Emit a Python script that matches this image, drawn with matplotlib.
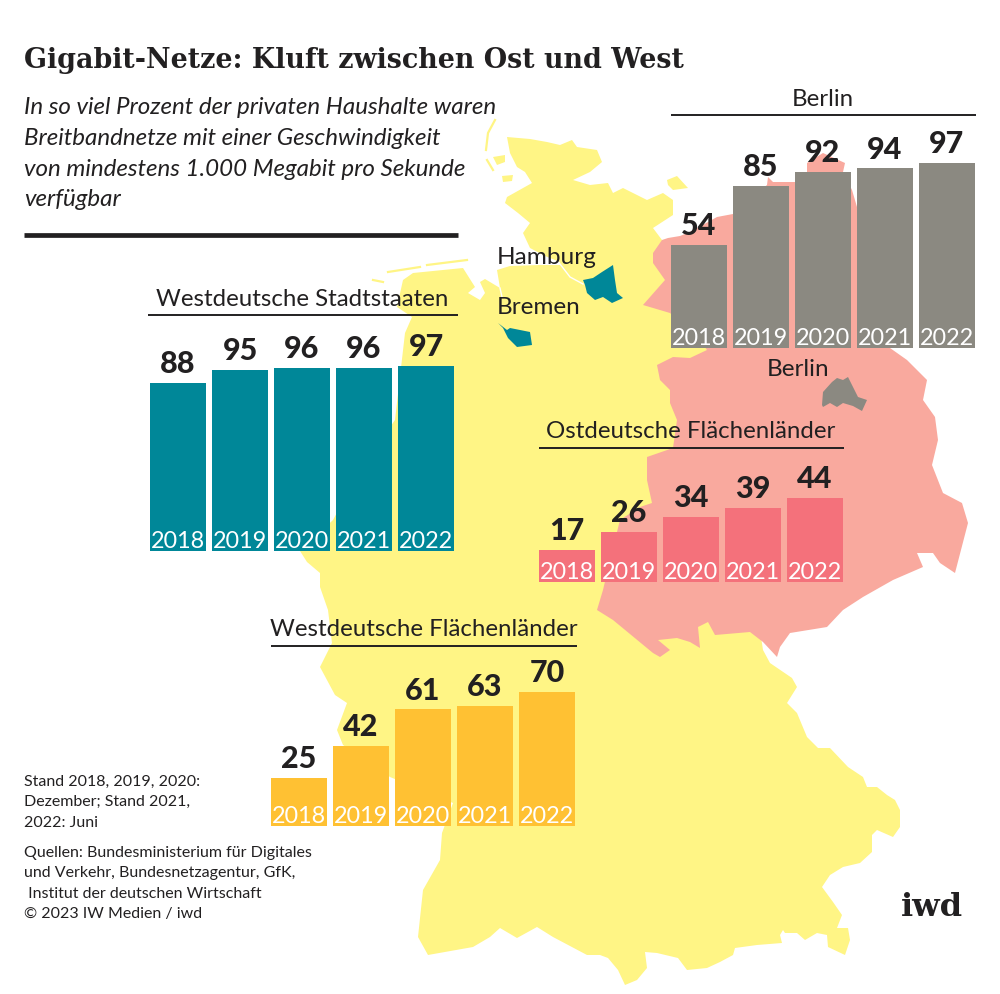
import numpy as np
import matplotlib
matplotlib.use('Agg')
import matplotlib.pyplot as plt
from matplotlib.patches import Polygon

years = ['2018', '2019', '2020', '2021', '2022']
west_city = [88, 95, 96, 96, 97]
berlin = [54, 85, 92, 94, 97]
east_land = [17, 26, 34, 39, 44]
west_land = [25, 42, 61, 63, 70]

# map shapes, traced in picture pixels
germany_west = [(507,137),(530,139),(547,142),(560,145),(572,140),(577,147),(597,150),(602,162),(590,172),(573,180),(590,185),
    (608,183),(613,193),(623,188),(647,200),(663,193),(673,200),(673,215),(653,228),(662,240),(720,300),(740,500),
    (763,650),(770,663),(792,678),(797,687),(787,703),(797,713),(807,737),(818,748),(830,748),(848,767),(863,777),
    (867,787),(877,787),(887,795),(895,800),(900,810),(900,827),(893,837),(877,830),(872,835),(872,852),(860,863),
    (843,867),(830,875),(822,887),(833,902),(842,915),(837,928),(848,928),(850,940),(845,955),(828,947),(827,935),
    (817,933),(805,940),(797,933),(785,933),(783,930),(780,935),(782,943),(757,945),(735,948),(733,955),(720,962),
    (707,968),(687,970),(678,958),(657,953),(645,952),(647,968),(637,980),(625,985),(618,970),(608,958),(600,955),
    (587,955),(553,937),(537,927),(517,938),(500,928),(490,937),(473,947),(428,955),(418,937),(423,890),(440,860),
    (442,833),(453,803),(390,777),(343,745),(337,730),(347,703),(335,695),(320,667),(332,643),(328,610),(320,587),
    (320,573),(307,562),(300,551),(333,520),(360,470),(395,420),(405,333),(412,317),(397,307),(403,280),(413,273),
    (463,268),(475,287),(468,293),(480,300),(485,293),(480,282),(485,279),(500,288),(497,270),(510,266),(540,265),
    (560,265),(560,262),(545,256),(530,248),(523,233),(530,223),(518,213),(505,203),(507,197),(532,183),(525,172),
    (517,167),(510,153)]
germany_east = [(662,240),(668,238),(680,236),(690,232),(717,217),(733,214),(767,185),(768,177),(773,182),(795,182),
    (795,172),(807,172),(807,163),(823,153),(845,163),(843,172),(852,190),(857,207),(860,225),(858,240),(870,300),
    (890,348),(907,360),(927,380),(923,400),(935,417),(938,440),(932,465),(943,493),(962,503),(968,523),(955,573),
    (940,563),(933,553),(917,553),(923,567),(893,580),(863,597),(843,610),(827,627),(790,633),(780,647),(777,657),
    (763,642),(750,632),(715,635),(708,622),(698,627),(700,648),(690,642),(677,638),(658,640),(670,650),(660,657),(653,653),
    (613,620),(597,610),(603,590),(610,560),(620,520),(640,507),(652,503),(647,480),(647,457),(673,448),(677,420),
    (670,403),(670,390),(660,380),(657,365),(673,357),(690,358),(707,350),(700,340),(670,313),(643,305),(665,280),
    (653,263),(653,253)]
hamburg = [(583,280),(593,278),(602,272),(613,265),(615,280),(617,293),(623,298),(612,303),(603,297),(595,300),(587,293),(585,285)]
bremen = [(498,323),(507,330),(510,328),(530,332),(532,345),(517,347),(508,338),(503,328)]
berlin_shape = [(822,405),(823,392),(832,382),(837,378),(843,380),(848,377),(853,387),(858,397),(867,400),(862,411),
    (853,406),(843,403),(837,407),(830,403),(823,407)]
fehmarn = [(667,180),(677,176),(688,188),(673,190),(668,185)]
foehr = [(493,157),(505,155),(505,162),(497,165)]
pellworm = [(502,176),(513,175),(512,181),(503,182)]
sylt = [(495,120),(488,133),(486,150)]
amrum = [(487,160),(493,170)]
frisian_1 = [(373,280),(383,282)]
frisian_2 = [(388,272),(420,267)]
frisian_3 = [(427,265),(467,260)]
elbe = [(560,264),(570,277),(583,284)]
weser = [(500,288),(502,297)]

YELLOW = '#FFF585'
PINK = '#F9A99E'
SANS = 'Lato'
DARK = '#222021'

W, H = 1000, 994
fig = plt.figure(figsize=(W/100, H/100), dpi=100, facecolor='white')
plt.rcParams['font.family'] = SANS

bg = fig.add_axes([0, 0, 1, 1])
bg.set_xlim(0, W)
bg.set_ylim(H, 0)
bg.axis('off')

bg.add_patch(Polygon(germany_west, fc=YELLOW, ec='none'))
bg.add_patch(Polygon(germany_east, fc=PINK, ec='none'))
for shape in [fehmarn, foehr, pellworm]:
    bg.add_patch(Polygon(shape, fc=YELLOW, ec='none'))
for line in [sylt, amrum, frisian_1, frisian_2, frisian_3]:
    bg.plot(*zip(*line), color=YELLOW, lw=1.6)
bg.add_patch(Polygon(hamburg, fc='#008798', ec='none'))
bg.add_patch(Polygon(bremen, fc='#008798', ec='none'))
bg.add_patch(Polygon(berlin_shape, fc='#8B8981', ec='none'))
for line in [elbe, weser]:
    bg.plot(*zip(*line), color='white', lw=1.0)

# header
bg.text(24, 61, 'Gigabit-Netze: Kluft zwischen Ost und West', family='DejaVu Serif', weight='bold',
        fontsize=19.4, color=DARK, va='center', ha='left')
intro = ['In so viel Prozent der privaten Haushalte waren', 'Breitbandnetze mit einer Geschwindigkeit',
         'von mindestens 1.000 Megabit pro Sekunde', 'verfügbar']
for i, s in enumerate(intro):
    bg.text(24, 108 + i*30.5, s, style='italic', fontsize=17.4, color=DARK, va='center', ha='left')
bg.plot([24, 458], [235, 235], color=DARK, lw=3.4, solid_capstyle='butt')

bg.text(497, 257, 'Hamburg', fontsize=17.6, color=DARK, va='center', ha='left')
bg.text(497, 307, 'Bremen', fontsize=17.5, color=DARK, va='center', ha='left')
bg.text(767, 369, 'Berlin', fontsize=17.5, color=DARK, va='center', ha='left')

note = ['Stand 2018, 2019, 2020:', 'Dezember; Stand 2021,', '2022: Juni']
for i, s in enumerate(note):
    bg.text(24, 782 + i*20.3, s, fontsize=11.55, color=DARK, va='center', ha='left')
source = ['Quellen: Bundesministerium für Digitales', 'und Verkehr, Bundesnetzagentur, GfK,',
          ' Institut der deutschen Wirtschaft', '© 2023 IW Medien / iwd']
for i, s in enumerate(source):
    bg.text(24, 853 + i*20.3, s, fontsize=11.55, color=DARK, va='center', ha='left')
bg.text(963, 907, 'iwd', family='DejaVu Serif', weight='bold', fontsize=23, color=DARK, va='center', ha='right')


def bar_group(x0, base, values, color, title, rule_x, rule_y, title_x):
    # one axes per group, all on the same 0-100 scale
    ax = fig.add_axes([(x0 - 3)/W, (H - base)/H, 310/W, 191/H])
    ax.patch.set_alpha(0)
    ax.axis('off')
    ax.set_xlim(-0.5, 4.5)
    ax.set_ylim(0, 100)
    xs = np.arange(len(years))
    ax.bar(xs, values, width=56/62, color=color)
    for x, v, y in zip(xs, values, years):
        ax.annotate(str(v), (x, v), xytext=(0, 3.5), textcoords='offset points', ha='center', va='bottom',
                    fontsize=22, weight='black', color=DARK, annotation_clip=False)
        ax.annotate(y, (x, 0), xytext=(0, -0.4), textcoords='offset points', ha='center', va='bottom',
                    fontsize=16.8, color='white', annotation_clip=False)
    bg.plot(rule_x, [rule_y, rule_y], color=DARK, lw=1.4, solid_capstyle='butt')
    bg.text(title_x, rule_y - 16, title, fontsize=17.3, color=DARK, va='center', ha='center')


bar_group(150, 551, west_city, '#008798', 'Westdeutsche Stadtstaaten', [148, 458], 315, 302)
bar_group(671, 348, berlin, '#8B8981', 'Berlin', [671, 976], 115, 823)
bar_group(539, 582, east_land, '#F4717B', 'Ostdeutsche Flächenländer', [539, 844], 448, 691)
bar_group(271, 826, west_land, '#FFC133', 'Westdeutsche Flächenländer', [271, 577], 646, 424)

fig.savefig('out.png', dpi=100)
